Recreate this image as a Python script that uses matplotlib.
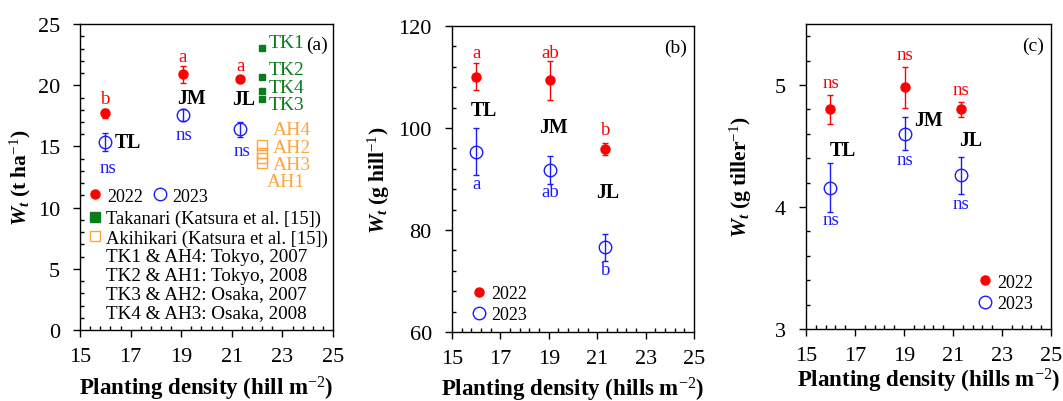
import numpy as np
import matplotlib
matplotlib.use("Agg")
import matplotlib.pyplot as plt
from matplotlib.ticker import MultipleLocator, AutoMinorLocator
from matplotlib.lines import Line2D

plt.rcParams['font.family'] = 'Liberation Serif'
plt.rcParams['mathtext.fontset'] = 'custom'
plt.rcParams['mathtext.it'] = 'Liberation Serif:italic:bold'
plt.rcParams['mathtext.rm'] = 'Liberation Serif'
plt.rcParams['mathtext.bf'] = 'Liberation Serif:bold'

# planting density of the three cultivars (hills m-2)
density = [16.0, 19.05, 21.33]
groups = ['TL', 'JM', 'JL']

# (a) Wt, t ha-1
wt_ha_2022 = [17.7, 20.9, 20.5]
wt_ha_2022_err = [0.4, 0.7, 0.15]
wt_ha_2023 = [15.35, 17.55, 16.4]
wt_ha_2023_err = [0.75, 0.5, 0.6]
sig_ha_2022 = ['b', 'a', 'a']
sig_ha_2023 = ['ns', 'ns', 'ns']

# Katsura et al. [15]
katsura_density = 22.2
tk_names = ['TK1', 'TK2', 'TK3', 'TK4']
tk_wt = [23.05, 20.7, 18.9, 19.55]
ah_names = ['AH1', 'AH2', 'AH3', 'AH4']
ah_wt = [13.65, 14.5, 14.05, 15.15]

# (b) Wt, g hill-1
wt_hill_2022 = [110.1, 109.4, 95.9]
wt_hill_2022_err = [2.7, 3.8, 1.2]
wt_hill_2023 = [95.4, 91.8, 76.6]
wt_hill_2023_err = [4.6, 2.7, 2.7]
sig_hill_2022 = ['a', 'ab', 'b']
sig_hill_2023 = ['a', 'ab', 'b']

# (c) Wt, g tiller-1
wt_tiller_2022 = [4.80, 4.98, 4.80]
wt_tiller_2022_err = [0.12, 0.17, 0.06]
wt_tiller_2023 = [4.16, 4.60, 4.26]
wt_tiller_2023_err = [0.20, 0.135, 0.15]
sig_tiller_2022 = ['ns', 'ns', 'ns']
sig_tiller_2023 = ['ns', 'ns', 'ns']

RED = '#ff0000'
BLUE = '#1a1aff'
GREEN = '#0a7d1a'
ORANGE = '#ffa53a'


def style_axes(ax, ymin, ymax, ymajor):
    ax.set_xlim(15, 25)
    ax.set_ylim(ymin, ymax)
    ax.set_xticks(np.arange(15, 26, 2))
    ax.xaxis.set_minor_locator(AutoMinorLocator(5))
    ax.yaxis.set_major_locator(MultipleLocator(ymajor))
    ax.yaxis.set_minor_locator(AutoMinorLocator(5))
    ax.tick_params(which='major', direction='out', length=5, width=1,
                   labelsize=16, top=False, right=False)
    ax.tick_params(axis='x', which='major', pad=7)
    ax.tick_params(axis='y', which='major', pad=9.5)
    ax.tick_params(which='minor', direction='in', length=3, width=1,
                   top=False, right=False)
    for sp in ax.spines.values():
        sp.set_linewidth(1)


def plot_years(ax, y22, e22, y23, e23):
    ax.errorbar(density, y22, yerr=e22, fmt='o', color=RED, ms=6.5,
                capsize=2.5, elinewidth=1, capthick=1, zorder=3)
    ax.errorbar(density, y23, yerr=e23, fmt='o', color=BLUE, mfc='none',
                ms=9, mew=1, capsize=2.5, elinewidth=1, capthick=1, zorder=3)


def year_handles():
    h22 = Line2D([], [], ls='none', marker='o', color=RED, ms=6.5)
    h23 = Line2D([], [], ls='none', marker='o', color=BLUE, mfc='none', ms=9, mew=1)
    return h22, h23


fig = plt.figure(figsize=(10.63, 4.02), dpi=100)
ax1 = fig.add_axes([0.0753, 0.1766, 0.238, 0.761])
ax2 = fig.add_axes([0.4252, 0.1716, 0.2277, 0.761])
ax3 = fig.add_axes([0.7582, 0.179, 0.2305, 0.7587])

XLAB_SIZE = 16.5
YLAB_SIZE = 15.5
GRP_SIZE = 14.3

# ---------- (a)
style_axes(ax1, 0, 25, 5)
plot_years(ax1, wt_ha_2022, wt_ha_2022_err, wt_ha_2023, wt_ha_2023_err)
ax1.plot([katsura_density] * 4, tk_wt, 's', color=GREEN, ms=4.5, zorder=3)
ax1.plot([katsura_density] * 4, ah_wt, 's', color=ORANGE, mfc='none', ms=7,
         mew=1, zorder=3)

tk_label_y = {'TK1': 23.5, 'TK2': 21.3, 'TK3': 18.4, 'TK4': 19.8}
for n in tk_names:
    ax1.text(22.47, tk_label_y[n], n, color=GREEN, fontsize=14, va='center')
ah_label_pos = {'AH4': (22.6, 16.4), 'AH2': (22.6, 14.95), 'AH3': (22.6, 13.5),
                'AH1': (22.37, 12.15)}
for n in ah_names:
    x, y = ah_label_pos[n]
    ax1.text(x, y, n, color=ORANGE, fontsize=14, va='center')

for i, s in enumerate(sig_ha_2022):
    ax1.text(density[i], wt_ha_2022[i] + [0.55, 0.75, 0.45][i], s, color=RED,
             fontsize=13.5, ha='center', va='bottom')
ns_pos = [(16.1, 13.3), (19.1, 15.95), (21.4, 14.7)]
for (x, y), s in zip(ns_pos, sig_ha_2023):
    ax1.text(x, y, s, color=BLUE, fontsize=13.5, ha='center', va='center')
grp_pos = [(16.9, 15.35), (19.4, 19.0), (21.45, 18.9)]
for (x, y), g in zip(grp_pos, groups):
    ax1.text(x, y, g, fontsize=GRP_SIZE, fontweight='bold', ha='center', va='center')
ax1.text(0.98, 0.935, '(a)', transform=ax1.transAxes, fontsize=14,
         ha='right', va='center')

h22, h23 = year_handles()
leg1 = ax1.legend([h22, h23], ['2022', '2023'], ncol=2, frameon=False,
                  loc='upper left', bbox_to_anchor=(0.025, 0.465),
                  borderpad=0, borderaxespad=0, handlelength=1,
                  handletextpad=0.15, columnspacing=0.45, fontsize=13)
ax1.add_artist(leg1)
htk = Line2D([], [], ls='none', marker='s', color=GREEN, ms=7)
hah = Line2D([], [], ls='none', marker='s', color=ORANGE, mfc='none', ms=7.5, mew=1)
leg2 = ax1.legend([htk, hah], ['Takanari (Katsura et al. [15])',
                               'Akihikari (Katsura et al. [15])'],
                  frameon=False, loc='upper left', bbox_to_anchor=(0.022, 0.393),
                  borderpad=0, borderaxespad=0, handlelength=1,
                  handletextpad=0.1, labelspacing=0.12, fontsize=13.3)
site_lines = ['TK1 & AH4: Tokyo, 2007', 'TK2 & AH1: Tokyo, 2008',
              'TK3 & AH2: Osaka, 2007', 'TK4 & AH3: Osaka, 2008']
for i, s in enumerate(site_lines):
    ax1.text(0.103, 0.24 - i * 0.061, s, transform=ax1.transAxes, fontsize=13.8,
             va='center')

ax1.set_ylabel(r'$W_t$ (t ha$^{-1}$)', fontsize=YLAB_SIZE, fontweight='bold',
               labelpad=3.5)
ax1.set_xlabel(r'Planting density (hill m$^{-2}$)', fontsize=XLAB_SIZE,
               fontweight='bold', labelpad=6)

# ---------- (b)
style_axes(ax2, 60, 120, 20)
plot_years(ax2, wt_hill_2022, wt_hill_2022_err, wt_hill_2023, wt_hill_2023_err)
red_lab_y = [114.8, 114.8, 99.7]
blue_lab_y = [89.2, 87.6, 72.3]
for i in range(3):
    ax2.text(density[i], red_lab_y[i], sig_hill_2022[i], color=RED,
             fontsize=13.5, ha='center', va='center')
    ax2.text(density[i], blue_lab_y[i], sig_hill_2023[i], color=BLUE,
             fontsize=13.5, ha='center', va='center')
grp_pos = [(16.33, 103.5), (19.2, 100.2), (21.45, 87.5)]
for (x, y), g in zip(grp_pos, groups):
    ax2.text(x, y, g, fontsize=GRP_SIZE, fontweight='bold', ha='center', va='center')
ax2.text(0.97, 0.93, '(b)', transform=ax2.transAxes, fontsize=14,
         ha='right', va='center')
h22, h23 = year_handles()
ax2.legend([h22, h23], ['2022', '2023'], frameon=False, loc='lower left',
           bbox_to_anchor=(0.075, 0.03), borderpad=0, borderaxespad=0,
           handlelength=1, handletextpad=0.15, labelspacing=0.2, fontsize=13)
ax2.set_ylabel(r'$W_t$ (g hill$^{-1}$)', fontsize=YLAB_SIZE, fontweight='bold',
               labelpad=4.5)
ax2.set_xlabel(r'Planting density (hills m$^{-2}$)', fontsize=XLAB_SIZE,
               fontweight='bold', labelpad=5)

# ---------- (c)
style_axes(ax3, 3, 5.5, 1)
plot_years(ax3, wt_tiller_2022, wt_tiller_2022_err, wt_tiller_2023, wt_tiller_2023_err)
red_lab_y = [5.02, 5.25, 4.96]
blue_lab_y = [3.9, 4.39, 4.03]
for i in range(3):
    ax3.text(density[i], red_lab_y[i], sig_tiller_2022[i], color=RED,
             fontsize=13.5, ha='center', va='center')
    ax3.text(density[i], blue_lab_y[i], sig_tiller_2023[i], color=BLUE,
             fontsize=13.5, ha='center', va='center')
grp_pos = [(16.5, 4.47), (20.0, 4.71), (21.73, 4.55)]
for (x, y), g in zip(grp_pos, groups):
    ax3.text(x, y, g, fontsize=GRP_SIZE, fontweight='bold', ha='center', va='center')
ax3.text(0.97, 0.93, '(c)', transform=ax3.transAxes, fontsize=14,
         ha='right', va='center')
h22, h23 = year_handles()
ax3.legend([h22, h23], ['2022', '2023'], frameon=False, loc='lower left',
           bbox_to_anchor=(0.695, 0.055), borderpad=0, borderaxespad=0,
           handlelength=1, handletextpad=0.15, labelspacing=0.25, fontsize=13)
ax3.set_ylabel(r'$W_t$ (g tiller$^{-1}$)', fontsize=YLAB_SIZE, fontweight='bold',
               labelpad=15)
ax3.set_xlabel(r'Planting density (hills m$^{-2}$)', fontsize=XLAB_SIZE,
               fontweight='bold', labelpad=1)

fig.savefig('out.png', dpi=100)
